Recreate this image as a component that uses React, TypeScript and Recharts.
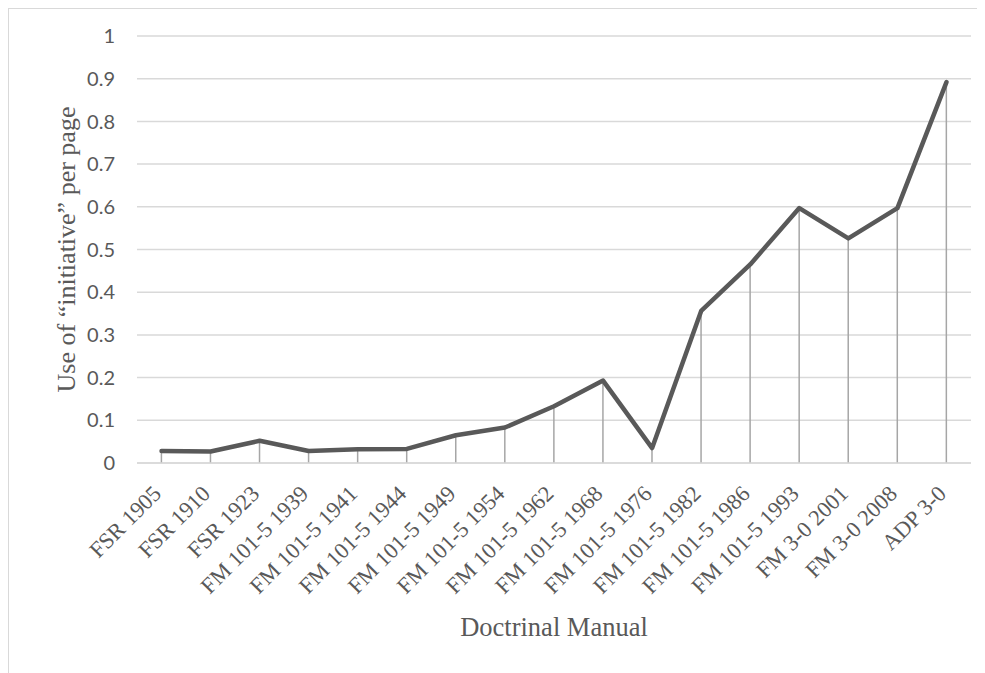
import {
  ComposedChart,
  Line,
  Bar,
  XAxis,
  YAxis,
  CartesianGrid,
} from 'recharts'

const manuals = [
  'FSR 1905',
  'FSR 1910',
  'FSR 1923',
  'FM 101-5 1939',
  'FM 101-5 1941',
  'FM 101-5 1944',
  'FM 101-5 1949',
  'FM 101-5 1954',
  'FM 101-5 1962',
  'FM 101-5 1968',
  'FM 101-5 1976',
  'FM 101-5 1982',
  'FM 101-5 1986',
  'FM 101-5 1993',
  'FM 3-0 2001',
  'FM 3-0 2008',
  'ADP 3-0',
]

const usePerPage = [
  0.028, 0.027, 0.052, 0.028, 0.032, 0.033, 0.065, 0.083, 0.133, 0.193,
  0.035, 0.356, 0.465, 0.597, 0.526, 0.597, 0.892,
]

const yTicks = [0, 0.1, 0.2, 0.3, 0.4, 0.5, 0.6, 0.7, 0.8, 0.9, 1]

const chartData = manuals.map((name, i) => ({ name, value: usePerPage[i] }))

const serif = '"Liberation Serif", "Times New Roman", serif'
const sans = 'Lato, "Open Sans", sans-serif'
const textColor = '#595959'

// thin vertical drop line from each point down to the axis
const DropLine = (props: any) => {
  const { x, y, width, height } = props
  const cx = x + width / 2
  return <line x1={cx} x2={cx} y1={y} y2={y + height} stroke="#a6a6a6" strokeWidth={1.5} />
}

const XTick = (props: any) => {
  const { x, y, payload } = props
  return (
    <g transform={`translate(${x + 1},${y + 24})`}>
      <text
        x={0}
        y={0}
        textAnchor="end"
        transform="rotate(-45)"
        fill={textColor}
        style={{ fontFamily: serif, fontSize: 22.5 }}
      >
        {payload.value}
      </text>
    </g>
  )
}

export default function App() {
  return (
    <div
      style={{
        width: 976,
        height: 664,
        borderTop: '1px solid #d9d9d9',
        borderLeft: '1px solid #d9d9d9',
        background: '#fff',
      }}
    >
      <ComposedChart
        width={976}
        height={664}
        data={chartData}
        margin={{ top: 27, right: 14, left: 0, bottom: 0 }}
      >
        <CartesianGrid vertical={false} stroke="#d9d9d9" strokeWidth={1.5} />
        <XAxis
          dataKey="name"
          interval={0}
          height={210}
          axisLine={{ stroke: '#d9d9d9', strokeWidth: 1.5 }}
          tickLine={false}
          tick={<XTick />}
          label={{
            content: ({ viewBox }: any) => (
              <text
                x={viewBox.x + viewBox.width / 2}
                y={viewBox.y + 173}
                textAnchor="middle"
                fill={textColor}
                style={{ fontFamily: serif, fontSize: 26.5 }}
              >
                Doctrinal Manual
              </text>
            ),
          }}
        />
        <YAxis
          width={128}
          domain={[0, 1]}
          ticks={yTicks}
          axisLine={false}
          tickLine={false}
          tickSize={0}
          tickMargin={22}
          tick={{ fill: textColor, fontFamily: sans, fontSize: 20 }}
          label={{
            content: ({ viewBox }: any) => {
              const cx = viewBox.x + 57
              const cy = viewBox.y + viewBox.height / 2
              return (
                <text
                  x={cx}
                  y={cy}
                  transform={`rotate(-90, ${cx}, ${cy})`}
                  textAnchor="middle"
                  dominantBaseline="central"
                  fill={textColor}
                  style={{ fontFamily: serif, fontSize: 26 }}
                >
                  Use of “initiative” per page
                </text>
              )
            },
          }}
        />
        <Bar dataKey="value" shape={<DropLine />} isAnimationActive={false} />
        <Line
          type="linear"
          dataKey="value"
          stroke="#595959"
          strokeWidth={4.5}
          strokeLinejoin="round"
          strokeLinecap="round"
          dot={false}
          activeDot={false}
          isAnimationActive={false}
        />
      </ComposedChart>
    </div>
  )
}
